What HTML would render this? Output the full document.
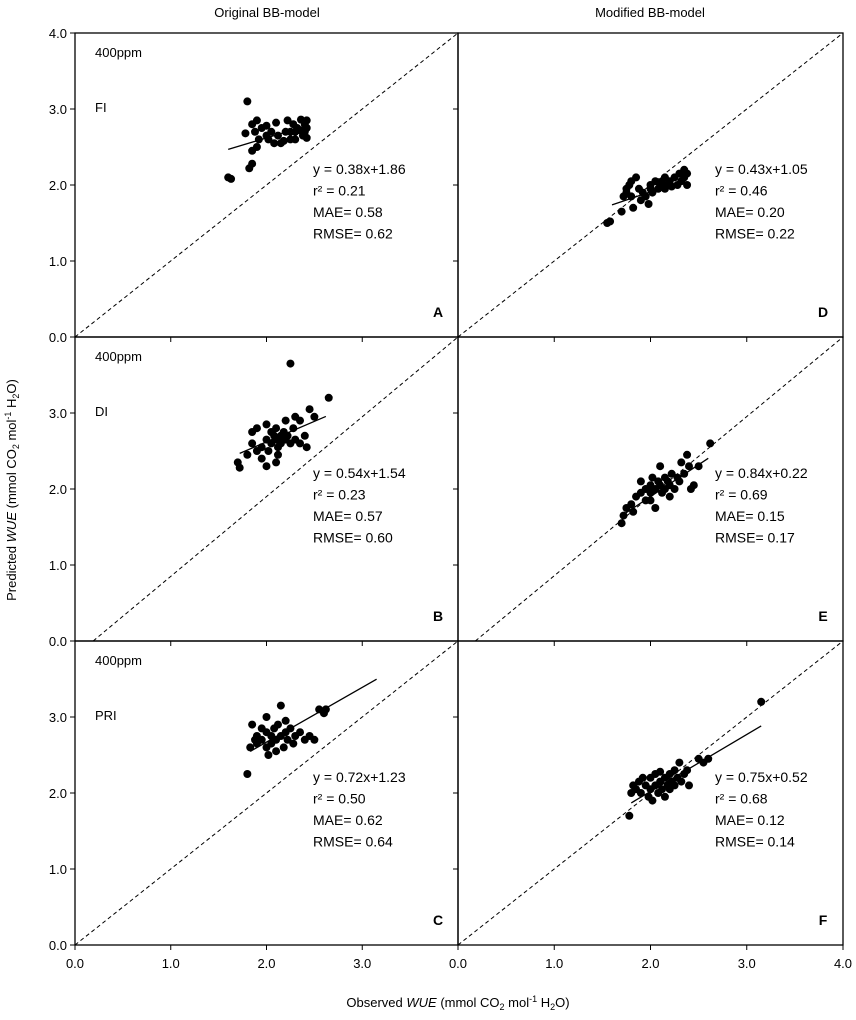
<!DOCTYPE html>
<html><head><meta charset="utf-8"><style>
body{margin:0;background:#fff;}
svg{display:block;font-family:"Liberation Sans",Arial,sans-serif;}
</style></head><body>
<svg id="chart" width="856" height="1020" viewBox="0 0 856 1020">
<text x="267" y="17" font-size="13" text-anchor="middle">Original BB-model</text>
<text x="650" y="17" font-size="13" text-anchor="middle">Modified  BB-model</text>
<text transform="translate(16,490) rotate(-90)" font-size="13" text-anchor="middle">Predicted <tspan font-style="italic">WUE</tspan>  (mmol CO<tspan font-size="9" dy="3">2</tspan><tspan dy="-3"> mol</tspan><tspan font-size="9" dy="-5">-1</tspan><tspan dy="5"> H</tspan><tspan font-size="9" dy="3">2</tspan><tspan dy="-3">O)</tspan></text>
<text x="458" y="1007" font-size="13" text-anchor="middle">Observed <tspan font-style="italic">WUE</tspan>  (mmol CO<tspan font-size="9" dy="3">2</tspan><tspan dy="-3"> mol</tspan><tspan font-size="9" dy="-5">-1</tspan><tspan dy="5"> H</tspan><tspan font-size="9" dy="3">2</tspan><tspan dy="-3">O)</tspan></text>
</svg>
<script>
const panelLetters = ["A","D","B","E","C","F"];
const panelTreat = ["FI","","DI","","PRI",""];
const slopes = [0.38,0.43,0.54,0.84,0.72,0.75];
const intercepts = [1.86,1.05,1.54,0.22,1.23,0.52];
const fitRanges = [[1.6,2.4],[1.6,2.38],[1.72,2.62],[1.72,2.6],[1.83,3.15],[1.8,3.15]];
const oneToOneStart = [0,0,0.19,0.18,0,0];
const statsText = [
 ["y = 0.38x+1.86","r² = 0.21","MAE= 0.58","RMSE= 0.62"],
 ["y = 0.43x+1.05","r² = 0.46","MAE= 0.20","RMSE= 0.22"],
 ["y = 0.54x+1.54","r² = 0.23","MAE= 0.57","RMSE= 0.60"],
 ["y = 0.84x+0.22","r² = 0.69","MAE= 0.15","RMSE= 0.17"],
 ["y = 0.72x+1.23","r² = 0.50","MAE= 0.62","RMSE= 0.64"],
 ["y = 0.75x+0.52","r² = 0.68","MAE= 0.12","RMSE= 0.14"]];
const yTickLabels = ["0.0","1.0","2.0","3.0","4.0"];
const pointsA = [[1.6,2.1],[1.63,2.08],[1.8,3.1],[1.78,2.68],[1.82,2.22],[1.85,2.28],[1.85,2.8],[1.88,2.7],[1.9,2.85],[1.92,2.6],[1.9,2.5],[1.95,2.75],[2.0,2.78],[2.0,2.65],[2.02,2.6],[2.05,2.7],[2.08,2.55],[2.1,2.82],[2.12,2.65],[2.15,2.55],[2.18,2.58],[2.2,2.7],[2.22,2.85],[2.25,2.7],[2.28,2.8],[2.3,2.6],[2.32,2.75],[2.35,2.72],[2.36,2.86],[2.38,2.65],[2.4,2.8],[2.42,2.85],[2.4,2.7],[2.42,2.75],[2.42,2.62],[2.3,2.7],[2.25,2.6],[1.85,2.45]];
const pointsD = [[1.55,1.5],[1.58,1.52],[1.7,1.65],[1.75,1.9],[1.75,1.95],[1.78,2.0],[1.8,1.85],[1.8,2.05],[1.82,1.7],[1.85,2.1],[1.88,1.95],[1.9,1.8],[1.92,1.9],[1.95,1.85],[2.0,2.0],[2.0,1.95],[2.02,1.9],[2.05,2.05],[2.08,1.95],[2.1,2.0],[2.12,2.05],[2.15,1.95],[2.15,2.1],[2.18,2.0],[2.2,2.05],[2.22,1.98],[2.25,2.1],[2.28,2.0],[2.3,2.15],[2.32,2.05],[2.35,2.2],[2.35,2.1],[2.38,2.0],[2.38,2.15],[1.98,1.75],[1.72,1.85]];
const pointsB = [[2.25,3.65],[2.65,3.2],[1.7,2.35],[1.72,2.28],[1.8,2.45],[1.85,2.6],[1.85,2.75],[1.9,2.8],[1.9,2.5],[1.95,2.4],[1.95,2.55],[2.0,2.85],[2.0,2.65],[2.02,2.5],[2.05,2.75],[2.05,2.6],[2.08,2.7],[2.1,2.65],[2.1,2.8],[2.12,2.55],[2.12,2.45],[2.15,2.7],[2.15,2.6],[2.18,2.75],[2.2,2.65],[2.2,2.9],[2.22,2.7],[2.25,2.6],[2.28,2.8],[2.3,2.95],[2.3,2.65],[2.35,2.9],[2.35,2.6],[2.4,2.7],[2.42,2.55],[2.45,3.05],[2.5,2.95],[2.1,2.35],[2.0,2.3]];
const pointsE = [[1.7,1.55],[1.72,1.65],[1.75,1.75],[1.8,1.8],[1.82,1.7],[1.85,1.9],[1.9,1.95],[1.9,2.1],[1.95,1.85],[1.95,2.0],[2.0,2.05],[2.0,1.95],[2.02,2.15],[2.05,2.0],[2.05,1.75],[2.08,2.1],[2.1,2.3],[2.1,2.05],[2.12,1.95],[2.15,2.15],[2.15,2.0],[2.18,2.1],[2.2,2.05],[2.2,1.9],[2.22,2.2],[2.25,2.0],[2.28,2.15],[2.3,2.1],[2.32,2.35],[2.35,2.2],[2.38,2.45],[2.4,2.3],[2.42,2.0],[2.45,2.05],[2.5,2.3],[2.62,2.6],[2.0,1.85]];
const pointsC = [[1.8,2.25],[1.83,2.6],[1.85,2.9],[1.9,2.75],[1.9,2.65],[1.95,2.85],[1.95,2.7],[2.0,2.8],[2.0,2.6],[2.02,2.5],[2.05,2.75],[2.05,2.65],[2.08,2.85],[2.1,2.7],[2.1,2.55],[2.12,2.9],[2.15,3.15],[2.15,2.75],[2.18,2.6],[2.2,2.8],[2.2,2.95],[2.22,2.7],[2.25,2.85],[2.28,2.65],[2.3,2.75],[2.35,2.8],[2.4,2.7],[2.45,2.75],[2.5,2.7],[2.55,3.1],[2.6,3.05],[2.62,3.1],[2.0,3.0],[1.88,2.7]];
const pointsF = [[1.78,1.7],[1.8,2.0],[1.82,2.1],[1.85,2.05],[1.88,2.15],[1.9,2.0],[1.92,2.2],[1.95,2.1],[1.98,1.95],[2.0,2.2],[2.0,2.05],[2.02,1.9],[2.05,2.25],[2.05,2.1],[2.08,2.0],[2.1,2.15],[2.1,2.28],[2.12,2.05],[2.15,2.2],[2.15,1.95],[2.18,2.1],[2.2,2.25],[2.2,2.05],[2.22,2.15],[2.25,2.3],[2.25,2.1],[2.28,2.2],[2.3,2.4],[2.32,2.15],[2.35,2.25],[2.4,2.1],[2.5,2.45],[2.55,2.4],[2.6,2.45],[3.15,3.2],[2.38,2.3]];
const allPoints = [pointsA,pointsD,pointsB,pointsE,pointsC,pointsF];

const NS="http://www.w3.org/2000/svg";
const svg=document.getElementById('chart');
function mk(tag,attrs,parent){const e=document.createElementNS(NS,tag);for(const k in attrs)e.setAttribute(k,attrs[k]);(parent||svg).appendChild(e);return e;}
const colX=[75,458], colW=[383,385], rowY=[33,337,641], rowH=304;
for(let i=0;i<6;i++){
  const c=i%2, r=Math.floor(i/2);
  const x0=colX[c], w=colW[c], y0=rowY[r];
  const sx=v=>x0+v/4*w, sy=v=>y0+rowH-v/4*rowH;
  const g=mk('g',{});
  
  
  const cid='clip'+i;
  const cp=mk('clipPath',{id:cid},g); mk('rect',{x:x0,y:y0,width:w,height:rowH},cp);
  // 1:1 line
  const dl=mk('line',{x1:sx(oneToOneStart[i]),y1:sy(0),x2:sx(4),y2:sy(4),stroke:'#000','stroke-width':1,'stroke-dasharray':'4,3','clip-path':'url(#'+cid+')'},g);
  
  
  // points
  allPoints[i].forEach(p=>{
    const d=mk('circle',{cx:sx(p[0]),cy:sy(p[1]),r:4,fill:'#000'},g);
    
    
  });
  // fit
  const fr=fitRanges[i];
  const fl=mk('line',{x1:sx(fr[0]),y1:sy(slopes[i]*fr[0]+intercepts[i]),x2:sx(fr[1]),y2:sy(slopes[i]*fr[1]+intercepts[i]),stroke:'#000','stroke-width':1.3},g);
  
  
  // frame
  const fr2=mk('rect',{x:x0,y:y0,width:w,height:rowH,fill:'none',stroke:'#000','stroke-width':1.3},g);
  
  
  // ticks
  for(let t=0;t<=4;t++){
    mk('line',{x1:x0,y1:sy(t),x2:x0-5,y2:sy(t),stroke:'#000','stroke-width':1},g);
    mk('line',{x1:sx(t),y1:y0+rowH,x2:sx(t),y2:y0+rowH+5,stroke:'#000','stroke-width':1},g);
  }
  if(c===0){
    for(let t=0;t<=4;t++){
      if(t===4&&r>0)continue;
      const tl=mk('text',{x:x0-8,y:sy(t)+5,'font-size':13,'text-anchor':'end'},g);
      tl.textContent=yTickLabels[t];
      
      
    }
  }
  if(r===2){
    for(let t=0;t<=4;t++){
      if(t===4&&c===0)continue;
      const tl=mk('text',{x:sx(t),y:y0+rowH+23,'font-size':13,'text-anchor':'middle'},g);
      tl.textContent=yTickLabels[t];
      
      
    }
  }
  if(c===0){
    const p=mk('text',{x:x0+20,y:y0+24,'font-size':13},g);p.textContent='400ppm';
    
    
    const t=mk('text',{x:x0+20,y:y0+79,'font-size':13},g);t.textContent=panelTreat[i];
    
    
  }
  statsText[i].forEach((s,k)=>{
    const st=mk('text',{x:x0+(c===0?238:257),y:y0+141+k*21.5,'font-size':14},g);
    st.textContent=s;
    
    
  });
  const L=mk('text',{x:x0+w-20,y:y0+rowH-20,'font-size':14,'font-weight':'bold','text-anchor':'middle'},g);
  L.textContent=panelLetters[i];
  
  
}
</script>
</body></html>
